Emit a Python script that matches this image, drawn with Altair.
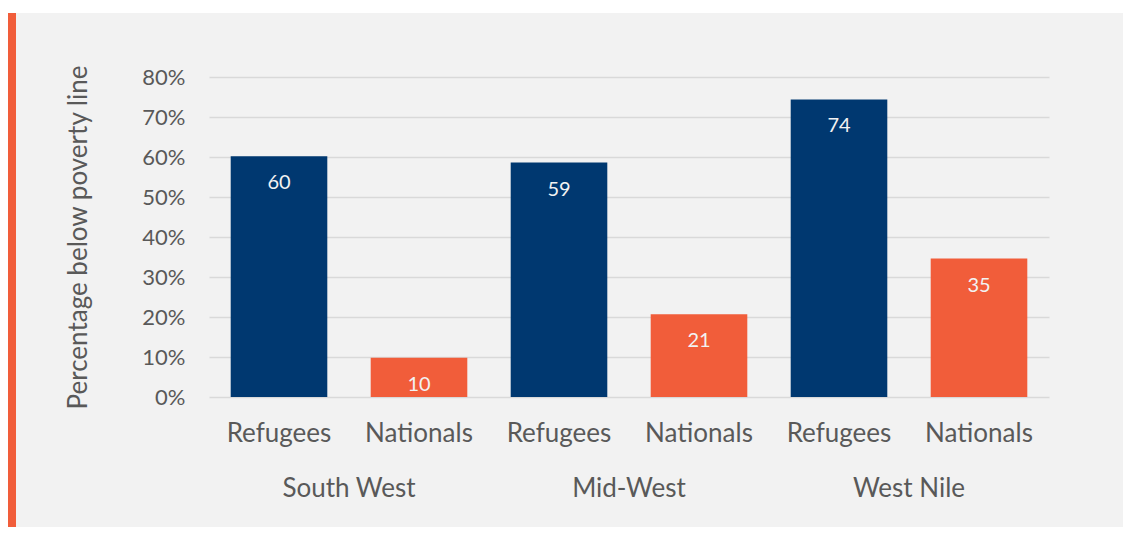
import altair as alt
import pandas as pd

regions = ["South West", "Mid-West", "West Nile"]
groups = ["Refugees", "Nationals"]
refugees = [60.2, 58.6, 74.4]
nationals = [9.8, 20.7, 34.6]
labels_ref = ["60", "59", "74"]
labels_nat = ["10", "21", "35"]
y_ticks = [0, 10, 20, 30, 40, 50, 60, 70, 80]

rows = []
for i, r in enumerate(regions):
    rows.append({"region": r, "group": "Refugees", "value": refugees[i], "label": labels_ref[i]})
    rows.append({"region": r, "group": "Nationals", "value": nationals[i], "label": labels_nat[i]})
df = pd.DataFrame(rows)

W, H = 840, 320
PAD = {"left": 201, "top": 69, "right": 74, "bottom": 130}
FONT = "Lato"
TXT = "#595959"
NAVY = "#003870"
ORANGE = "#f15d3a"

x = alt.X("region:N", sort=regions,
          scale=alt.Scale(paddingInner=0, paddingOuter=0),
          axis=alt.Axis(title=None, domain=False, ticks=False, grid=False,
                        labelPadding=78, labelFontSize=26, labelColor=TXT,
                        labelAngle=0, labelFont=FONT))
xoff = alt.XOffset("group:N", sort=groups,
                   scale=alt.Scale(paddingInner=0.31, paddingOuter=0.155))
y_axis = alt.Axis(values=y_ticks, tickCount=len(y_ticks) + 2,
                  labelExpr="datum.value + '%'",
                  labelOverlap=False, labelBound=False,
                  title="Percentage below poverty line",
                  domain=False, ticks=False, grid=True,
                  gridColor="#d9d9d9", gridWidth=1.5,
                  labelPadding=24, labelFontSize=22, labelColor=TXT,
                  labelFont=FONT,
                  titleFont=FONT, titleFontSize=26, titleColor=TXT,
                  titleFontWeight="normal", titleX=-131, titleY=H / 2,
                  titleAngle=-90, titleAlign="center",
                  titleBaseline="middle")
y = alt.Y("value:Q", scale=alt.Scale(domain=[0, 80], nice=False, zero=True),
          axis=y_axis)
y_noaxis = alt.Y("value:Q")
color = alt.Color("group:N", scale=alt.Scale(domain=groups, range=[NAVY, ORANGE]),
                  legend=None)

base = alt.Chart(df)
bars = base.mark_bar().encode(x=x, xOffset=xoff, y=y, color=color)
bar_labels = base.mark_text(dy=27, baseline="middle", fontSize=20, font=FONT,
                            color="#f2f2f2").encode(
    x=x, xOffset=xoff, y=y_noaxis, text="label:N")
sub_labels = base.mark_text(baseline="middle", fontSize=26, font=FONT,
                            color=TXT).encode(
    x=x, xOffset=xoff, y=alt.value(H + 37), text="group:N")

one = alt.Data(values=[{"a": 1}])
white_strip = alt.Chart(one).mark_rect().encode(
    x=alt.value(-PAD["left"]), x2=alt.value(W + PAD["right"]),
    y=alt.value(-PAD["top"]), y2=alt.value(-PAD["top"] + 5),
    color=alt.value("white"))
orange_strip = alt.Chart(one).mark_rect().encode(
    x=alt.value(-PAD["left"]), x2=alt.value(-PAD["left"] + 8),
    y=alt.value(-PAD["top"] + 5), y2=alt.value(H + PAD["bottom"]),
    color=alt.value(ORANGE))

chart = alt.layer(bars, bar_labels, sub_labels, white_strip, orange_strip).properties(
    width=W, height=H,
    autosize=alt.AutoSizeParams(type="none"),
    padding=PAD,
    background="#f2f2f2",
).configure_view(stroke=None)

chart.save("out.html", embed_options={"renderer": "svg", "actions": False})
